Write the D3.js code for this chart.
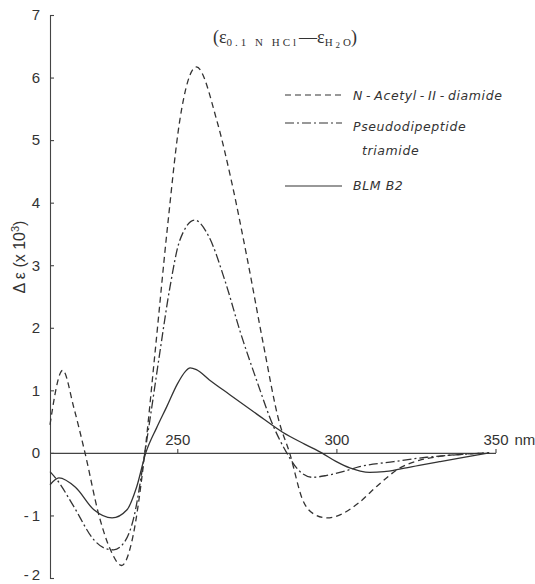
<!DOCTYPE html>
<html>
<head>
<meta charset="utf-8">
<script src="https://cdn.jsdelivr.net/npm/d3@7"></script>
<style>
  body { margin: 0; background: #fff; }
  svg { display: block; }
  .axis text { font-family: "Liberation Sans", "DejaVu Sans", sans-serif; font-size: 15px; fill: #333; }
  .axis path, .axis line { stroke: #444; stroke-width: 1.1; }
  .legend text { font-family: "DejaVu Sans", sans-serif; font-style: italic; font-size: 12.5px; fill: #333; letter-spacing: 0.6px; }
</style>
</head>
<body>
<div id="chart"></div>
<script>
// values (wavelength nm, delta epsilon x 10^3)
var acetylNm  = [210, 214, 217.5, 221, 225.5, 229, 232.5, 236, 239.8, 243, 247, 250.8, 256, 262.5, 267, 272, 277, 282, 285.3, 289.4, 293, 297, 302, 307, 313, 320, 326, 332, 340, 348];
var acetylVal = [0.45, 1.32, 0.72, 0, -1.02, -1.55, -1.8, -1.35, 0, 1.6, 3.65, 5.32, 6.17, 5.3, 4.35, 3.1, 1.75, 0.5, 0, -0.75, -0.98, -1.04, -0.97, -0.8, -0.52, -0.24, -0.12, -0.06, -0.02, 0];

var pseudoNm  = [210, 212.2, 217.5, 223.8, 227, 230, 233.2, 236.4, 239.8, 241.4, 244.5, 247.7, 250.8, 255.5, 260, 265, 270, 275, 280, 284.4, 288, 292.5, 297, 302, 307.3, 318, 328.3, 338, 348];
var pseudoVal = [-0.3, -0.43, -0.86, -1.39, -1.52, -1.55, -1.44, -1.02, 0, 0.53, 1.6, 2.65, 3.4, 3.72, 3.45, 2.75, 1.9, 1.15, 0.45, 0, -0.27, -0.39, -0.36, -0.3, -0.22, -0.14, -0.07, -0.03, 0];

var blmNm  = [210, 212.8, 218, 223.8, 229.5, 234.2, 237.2, 240.1, 243.5, 246.7, 250, 252.5, 254, 256, 260, 266.5, 275, 283.1, 290, 295.4, 300, 304.2, 307.5, 310.4, 315, 319.9, 326, 332.4, 340, 348];
var blmVal = [-0.51, -0.40, -0.55, -0.91, -1.04, -0.91, -0.55, 0, 0.4, 0.74, 1.1, 1.3, 1.36, 1.33, 1.17, 0.93, 0.62, 0.33, 0.14, 0, -0.14, -0.24, -0.29, -0.31, -0.3, -0.26, -0.2, -0.14, -0.07, 0];

var yTicks = [-2, -1, 0, 1, 2, 3, 4, 5, 6, 7];
var xTicks = [250, 300, 350];
var seriesNames = ["N\u2009-\u2009Acetyl\u2009-\u2009II\u2009-\u2009diamide", "Pseudodipeptide", "BLM B2"];

var width = 535, height = 584;

var svg = d3.select('#chart')
  .append('svg')
  .attr('width', width)
  .attr('height', height);

var x = d3.scaleLinear().domain([210, 350]).range([50, 495.5]);
var y = d3.scaleLinear().domain([-2, 7]).range([578, 15]);

// y axis, ticks pointing inward like the original
var yg = svg.append('g')
  .attr('class', 'axis')
  .attr('transform', 'translate(' + x(210) + ',0)')
  .call(d3.axisLeft(y).tickValues(yTicks).tickSize(-4).tickPadding(10)
    .tickFormat(function (d) { return d < 0 ? '-\u2009' + Math.abs(d) : String(d); }));
// keep the bottom label inside the frame
yg.selectAll('.tick text').filter(function (d) { return d === -2; }).attr('dy', '0.1em');

// x axis along zero line, labels above
svg.append('g')
  .attr('class', 'axis')
  .attr('transform', 'translate(0,' + y(0) + ')')
  .call(d3.axisTop(x).tickValues(xTicks).tickSize(4).tickSizeOuter(0).tickPadding(4));

svg.append('text')
  .attr('x', x(350) + 19)
  .attr('y', y(0) - 8)
  .attr('font-family', '"Liberation Sans", sans-serif')
  .attr('font-size', 15)
  .attr('fill', '#333')
  .text('nm');

// y label
var ylab = svg.append('text')
  .attr('transform', 'translate(25,257) rotate(-90)')
  .attr('text-anchor', 'middle')
  .attr('font-family', '"Liberation Sans", sans-serif')
  .attr('font-size', 16)
  .attr('fill', '#333');
ylab.append('tspan').text('\u0394 \u03b5  (x 10');
ylab.append('tspan').attr('dy', -6).attr('font-size', 11).text('3');
ylab.append('tspan').attr('dy', 6).text(')');

// title
var title = svg.append('text')
  .attr('x', 213)
  .attr('y', 43)
  .attr('font-family', '"Liberation Serif", serif')
  .attr('font-size', 18)
  .attr('fill', '#333');
title.append('tspan').text('(\u03b5');
title.append('tspan').attr('dy', 3).attr('font-size', 11).attr('letter-spacing', 3).text('0.1 N  HCl');
title.append('tspan').attr('dy', -3).text('\u2014\u03b5');
title.append('tspan').attr('dy', 3).attr('font-size', 11).attr('letter-spacing', 3).text('H');
title.append('tspan').attr('dy', 2).attr('font-size', 9).attr('letter-spacing', 3).text('2');
title.append('tspan').attr('dy', -2).attr('font-size', 11).text('O');
title.append('tspan').attr('dy', -3).text(')');

var line = d3.line()
  .x(function (d) { return x(d[0]); })
  .y(function (d) { return y(d[1]); })
  .curve(d3.curveMonotoneX);

var series = [
  { nm: acetylNm, val: acetylVal, dash: '6,4' },
  { nm: pseudoNm, val: pseudoVal, dash: '9,3,2,3' },
  { nm: blmNm, val: blmVal, dash: null }
];

svg.selectAll('path.curve')
  .data(series)
  .enter()
  .append('path')
  .attr('class', 'curve')
  .attr('d', function (s) { return line(d3.zip(s.nm, s.val)); })
  .attr('fill', 'none')
  .attr('stroke', '#333')
  .attr('stroke-width', 1.3)
  .attr('stroke-dasharray', function (s) { return s.dash; });

// legend
var leg = svg.append('g').attr('class', 'legend');
var legRows = [
  { yl: 95, yt: 100, dash: '6,4', label: seriesNames[0] },
  { yl: 123, yt: 131, dash: '9,3,2,3', label: seriesNames[1] },
  { yl: 186, yt: 190, dash: null, label: seriesNames[2] }
];
legRows.forEach(function (r) {
  leg.append('line')
    .attr('x1', 285).attr('x2', 342)
    .attr('y1', r.yl).attr('y2', r.yl)
    .attr('stroke', '#333')
    .attr('stroke-width', 1.2)
    .attr('stroke-dasharray', r.dash);
  leg.append('text').attr('x', 353).attr('y', r.yt).text(r.label);
});
leg.append('text').attr('x', 362).attr('y', 155).text('triamide');
</script>
</body>
</html>
